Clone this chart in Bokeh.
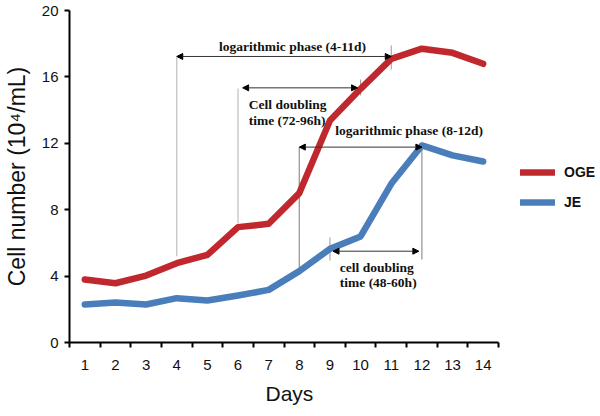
from bokeh.plotting import figure
from bokeh.models import Range1d, FixedTicker, Legend, LegendItem, Arrow, NormalHead, ColumnDataSource, Title
from bokeh.embed import file_html
from bokeh.resources import INLINE
from bokeh.core.properties import value

# ---- data ----
days = list(range(1, 15))
oge = [3.80, 3.57, 4.03, 4.78, 5.28, 6.95, 7.15, 9.00, 13.37, 15.28, 17.09, 17.70, 17.45, 16.79]
je = [2.29, 2.41, 2.29, 2.67, 2.53, 2.83, 3.17, 4.30, 5.64, 6.39, 9.56, 11.87, 11.27, 10.90]
y_ticks = [0, 4, 8, 12, 16, 20]

# guide lines: day, bottom, top
guide_day = [4, 6, 8, 12]
guide_bottom = [5.2, 7.17, 4.16, 5.0]
guide_top = [17.23, 15.3, 11.77, 11.87]
guide_color = ["#C4C4C4", "#C4C4C4", "#9A9A9A", "#9A9A9A"]
# short marks across the curves
mark_day = [11, 10, 9]
mark_bottom = [16.45, 14.88, 4.94]
mark_top = [17.9, 15.84, 6.33]
# double arrows
arrow_start = [4, 6.15, 8, 9.1]
arrow_end = [11, 9.9, 12, 11.9]
arrow_level = [17.23, 15.34, 11.77, 5.5]
# notes
note_text = ["logarithmic phase (4-11d)", "Cell doubling", "time (72-96h)",
             "logarithmic phase (8-12d)", "cell doubling", "time (48-60h)"]
note_day = [7.78, 6.35, 6.35, 11.58, 9.32, 9.32]
note_level = [17.83, 14.34, 13.37, 12.77, 4.52, 3.63]
note_align = ["center", "left", "left", "center", "left", "left"]

RED = "#C0282E"
BLUE = "#4A7EBB"

# frame extends right so the legend can sit inside it; axis line limited by bounds
W, H = 600, 416
LEFT, TOP, BOTTOM = 69, 10, 74
x_lo, x_hi = 0.5, 14.5
frame_w = W - LEFT
axis_w = 429
x_view_hi = x_lo + (x_hi - x_lo) * frame_w / axis_w

p = figure(width=W, height=H, output_backend="svg", toolbar_location=None,
           x_range=Range1d(x_lo, x_view_hi), y_range=Range1d(0, 20),
           min_border_left=LEFT, min_border_right=0, min_border_top=TOP, min_border_bottom=BOTTOM)
p.outline_line_color = None
p.xgrid.visible = False
p.ygrid.visible = False
p.background_fill_color = "white"

# guides
p.segment(x0=guide_day, y0=guide_bottom, x1=guide_day, y1=guide_top,
          line_color=guide_color, line_width=1.3)
p.segment(x0=mark_day, y0=mark_bottom, x1=mark_day, y1=mark_top,
          line_color="#9A9A9A", line_width=1)

r1 = p.line(days, oge, line_color=RED, line_width=6.5, line_cap="round", line_join="round")
r2 = p.line(days, je, line_color=BLUE, line_width=6.5, line_cap="round", line_join="round")

for xs, xe, yl in zip(arrow_start, arrow_end, arrow_level):
    p.add_layout(Arrow(x_start=xs, y_start=yl, x_end=xe, y_end=yl,
                       line_color="#333333", line_width=1,
                       start=NormalHead(size=6, fill_color="black", line_color="black", line_width=1),
                       end=NormalHead(size=6, fill_color="black", line_color="black", line_width=1)))

src = ColumnDataSource(dict(x=note_day, y=note_level, text=note_text, align=note_align))
p.text(x="x", y="y", text="text", text_align="align", source=src,
       text_font=value("Liberation Serif"), text_font_style="bold",
       text_font_size="13.5px", text_baseline="middle", text_color="#111111")

# axes
xa = p.xaxis[0]
xa.bounds = (x_lo, x_hi)
xa.ticker = FixedTicker(ticks=days, minor_ticks=[d - 0.5 for d in days] + [days[-1] + 0.5])
xa.major_tick_out = 0
xa.major_tick_in = 0
xa.minor_tick_out = 5
xa.minor_tick_in = 0
xa.minor_tick_line_width = 2
xa.minor_tick_line_color = "black"
xa.axis_line_width = 2
xa.axis_line_color = "black"
xa.major_label_standoff = 12
xa.major_label_text_font = "Liberation Sans"
xa.major_label_text_font_size = "15px"
xa.major_label_text_color = "#111111"

p.add_layout(Title(text="Days", align="left", offset=196, standoff=15,
                   text_font="Liberation Sans", text_font_style="normal",
                   text_font_size="21px", text_color="#111111"), "below")

ya = p.yaxis[0]
ya.ticker = FixedTicker(ticks=y_ticks)
ya.major_tick_out = 5
ya.major_tick_in = 0
ya.minor_tick_out = 0
ya.minor_tick_in = 0
ya.major_tick_line_width = 2
ya.major_tick_line_color = "black"
ya.axis_line_width = 2
ya.axis_line_color = "black"
ya.major_label_standoff = 6
ya.major_label_text_font = "Liberation Sans"
ya.major_label_text_font_size = "15px"
ya.major_label_text_color = "#111111"
ya.axis_label = "Cell number (10\u2074/mL)"
ya.axis_label_text_font = "Liberation Sans"
ya.axis_label_text_font_style = "normal"
ya.axis_label_text_font_size = "23px"
ya.axis_label_text_color = "#111111"
ya.axis_label_standoff = 9

legend = Legend(items=[LegendItem(label="OGE", renderers=[r1]),
                       LegendItem(label="JE", renderers=[r2])],
                location=(451, 130))
legend.glyph_width = 35
legend.glyph_height = 20
legend.label_height = 20
legend.label_standoff = 9
legend.spacing = 10
legend.padding = 0
legend.margin = 0
legend.border_line_color = None
legend.background_fill_alpha = 0
legend.label_text_font = "Liberation Sans"
legend.label_text_font_style = "bold"
legend.label_text_font_size = "14px"
legend.label_text_color = "#111111"
p.add_layout(legend)

open("out.html", "w").write(file_html(p, INLINE))
